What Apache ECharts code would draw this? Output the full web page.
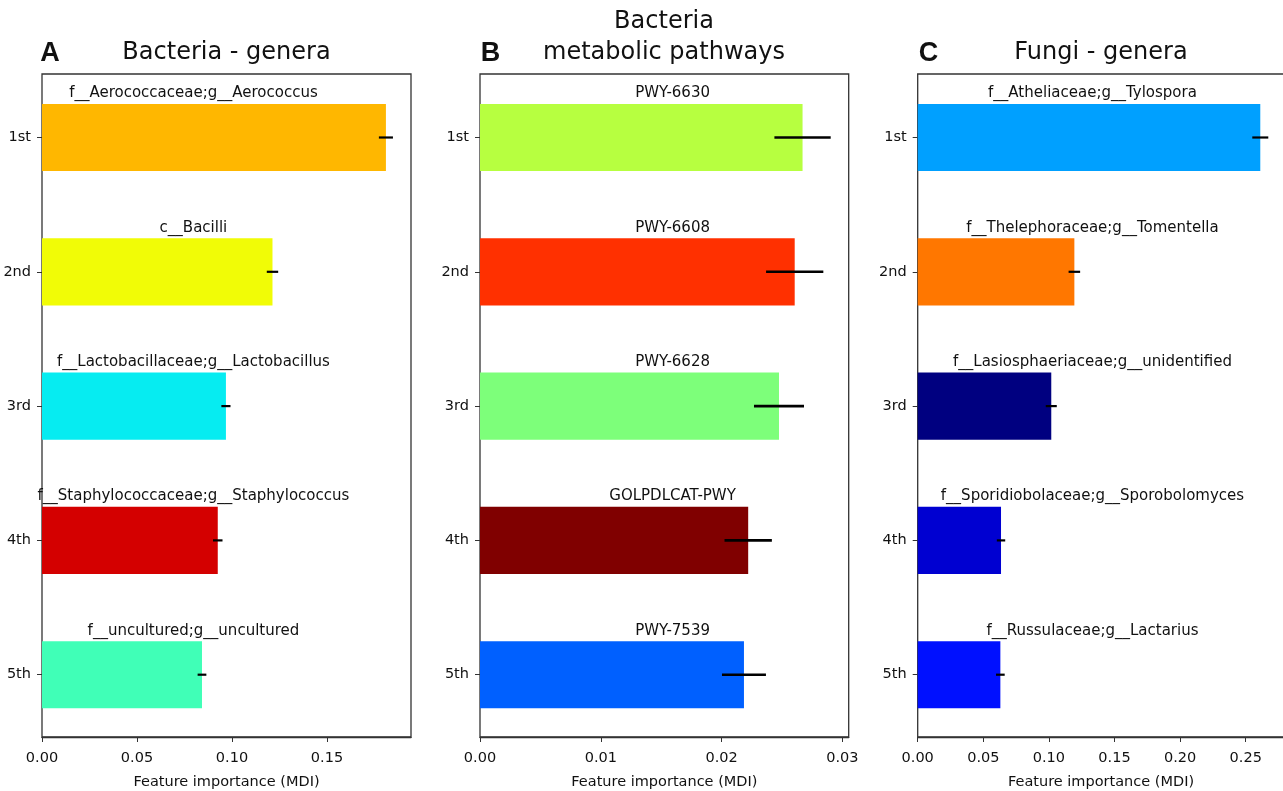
<!DOCTYPE html>
<html>
<head>
<meta charset="utf-8">
<script src="https://cdn.jsdelivr.net/npm/echarts@6/dist/echarts.min.js"></script>
<style>
html, body { margin: 0; padding: 0; background: #fff; }
#chart { width: 1283px; height: 791px; }
</style>
</head>
<body>
<div id="chart"></div>
<script>
// ranks shared by all three panels
var ranks = ['1st', '2nd', '3rd', '4th', '5th'];

// A - bacteria genera
var bactNames = ['f__Aerococcaceae;g__Aerococcus', 'c__Bacilli', 'f__Lactobacillaceae;g__Lactobacillus',
  'f__Staphylococcaceae;g__Staphylococcus', 'f__uncultured;g__uncultured'];
var bactValues = [0.181, 0.1213, 0.0968, 0.0925, 0.0842];
var bactErrors = [0.0037, 0.003, 0.0024, 0.0025, 0.0023];

// B - bacteria metabolic pathways
var pathNames = ['PWY-6630', 'PWY-6608', 'PWY-6628', 'GOLPDLCAT-PWY', 'PWY-7539'];
var pathValues = [0.0267, 0.02605, 0.02475, 0.0222, 0.02185];
var pathErrors = [0.00233, 0.00237, 0.00207, 0.00196, 0.00182];

// C - fungi genera
var fungiNames = ['f__Atheliaceae;g__Tylospora', 'f__Thelephoraceae;g__Tomentella', 'f__Lasiosphaeriaceae;g__unidentified',
  'f__Sporidiobolaceae;g__Sporobolomyces', 'f__Russulaceae;g__Lactarius'];
var fungiValues = [0.2611, 0.1194, 0.1018, 0.0635, 0.063];
var fungiErrors = [0.0061, 0.0044, 0.0042, 0.0032, 0.0033];

// x ticks
var tickStepAC = 0.05;
var tickStepB = 0.01;

var FONT = '"DejaVu Sans", sans-serif';
var TXT = '#111';
var LINE = '#333';

// jet-like colours picked from the figure
var colorsA = ['#ffb700', '#f1fc06', '#06ecf1', '#d40000', '#40ffb7'];
var colorsB = ['#b7ff40', '#ff3000', '#7dff7a', '#800000', '#0060ff'];
var colorsC = ['#00a0ff', '#ff7700', '#000080', '#0000d1', '#0010ff'];

var panels = [
  { names: bactNames, values: bactValues, errors: bactErrors, colors: colorsA,
    left: 42, width: 369, max: 0.1942, step: tickStepAC, labelX: 0.0797, errW: 2.2 },
  { names: pathNames, values: pathValues, errors: pathErrors, colors: colorsB,
    left: 480, width: 368.7, max: 0.03052, step: tickStepB, labelX: 0.01594, errW: 2.6 },
  { names: fungiNames, values: fungiValues, errors: fungiErrors, colors: colorsC,
    left: 917.7, width: 366.6, max: 0.2794, step: tickStepAC, labelX: 0.1332, errW: 2.2 }
];

var chart = echarts.init(document.getElementById('chart'));

var grids = [], xAxes = [], yAxes = [], series = [];
panels.forEach(function (p, i) {
  var g = i * 2;
  // frame grid: box + x axis
  grids.push({
    left: p.left, width: p.width, top: 74, height: 663, outerBoundsMode: 'none',
    show: true, borderColor: LINE, borderWidth: 1.3
  });
  // bar grid: matplotlib leaves a slightly smaller margin than one half band
  grids.push({ left: p.left, width: p.width, top: 70.35, height: 671.5, outerBoundsMode: 'none' });

  xAxes.push({
    type: 'value', gridIndex: g, min: 0, max: p.max, interval: p.step,
    splitLine: { show: false },
    axisLine: { show: true, lineStyle: { color: LINE, width: 1.3 } },
    axisTick: { show: true, length: 5, lineStyle: { color: LINE } },
    axisLabel: {
      color: TXT, fontFamily: FONT, fontSize: 14.5, margin: 14, showMaxLabel: false,
      formatter: function (v) { return v.toFixed(2); }
    },
    name: 'Feature importance (MDI)', nameLocation: 'middle', nameGap: 38,
    nameTextStyle: { color: TXT, fontFamily: FONT, fontSize: 14.5 }
  });
  yAxes.push({ type: 'value', gridIndex: g, show: false, min: 0, max: 1 });

  xAxes.push({ type: 'value', gridIndex: g + 1, min: 0, max: p.max, show: false });
  yAxes.push({
    type: 'category', gridIndex: g + 1, data: ranks, inverse: true,
    axisLine: { show: false },
    axisTick: { show: true, alignWithLabel: true, length: 5, lineStyle: { color: LINE } },
    axisLabel: { color: TXT, fontFamily: FONT, fontSize: 14.5, margin: 11 }
  });

  series.push({
    type: 'bar', xAxisIndex: g + 1, yAxisIndex: g + 1, barWidth: '50%',
    data: p.values.map(function (v, k) {
      return { value: v, itemStyle: { color: p.colors[k] } };
    }),
    silent: true
  });
  series.push({
    type: 'custom', xAxisIndex: g + 1, yAxisIndex: g + 1, silent: true, z: 5,
    data: p.values.map(function (v, k) { return [v, k, p.errors[k], p.labelX]; }),
    renderItem: function (params, api) {
      var v = api.value(0), k = api.value(1), e = api.value(2);
      var a = api.coord([v - e, k]);
      var b = api.coord([v + e, k]);
      var band = api.size([0, 1])[1];
      var lab = api.coord([api.value(3), k]);
      var barTop = a[1] - band * 0.25;
      return {
        type: 'group',
        children: [
          { type: 'line', shape: { x1: a[0], y1: a[1], x2: b[0], y2: b[1] },
            style: { stroke: '#000', lineWidth: p.errW } },
          { type: 'text', x: lab[0], y: barTop - 3,
            style: { text: p.names[params.dataIndex], fill: TXT, font: '15px ' + FONT,
              align: 'center', verticalAlign: 'bottom' } }
        ]
      };
    }
  });
});

function txt(x, y, s, font) {
  return { type: 'text', x: x, y: y, silent: true,
    style: { text: s, fill: TXT, font: font, align: 'center', verticalAlign: 'middle' } };
}
var titleFont = '24px ' + FONT;
var letterFont = 'bold 27px "Liberation Sans", Arial, sans-serif';

chart.setOption({
  animation: false,
  grid: grids,
  xAxis: xAxes,
  yAxis: yAxes,
  series: series,
  graphic: [
    txt(226.5, 53, 'Bacteria - genera', titleFont),
    txt(664, 22, 'Bacteria', titleFont),
    txt(664, 53, 'metabolic pathways', titleFont),
    txt(1101, 53, 'Fungi - genera', titleFont),
    txt(50, 54, 'A', letterFont),
    txt(490.5, 54, 'B', letterFont),
    txt(928.5, 54, 'C', letterFont)
  ]
});
</script>
</body>
</html>
